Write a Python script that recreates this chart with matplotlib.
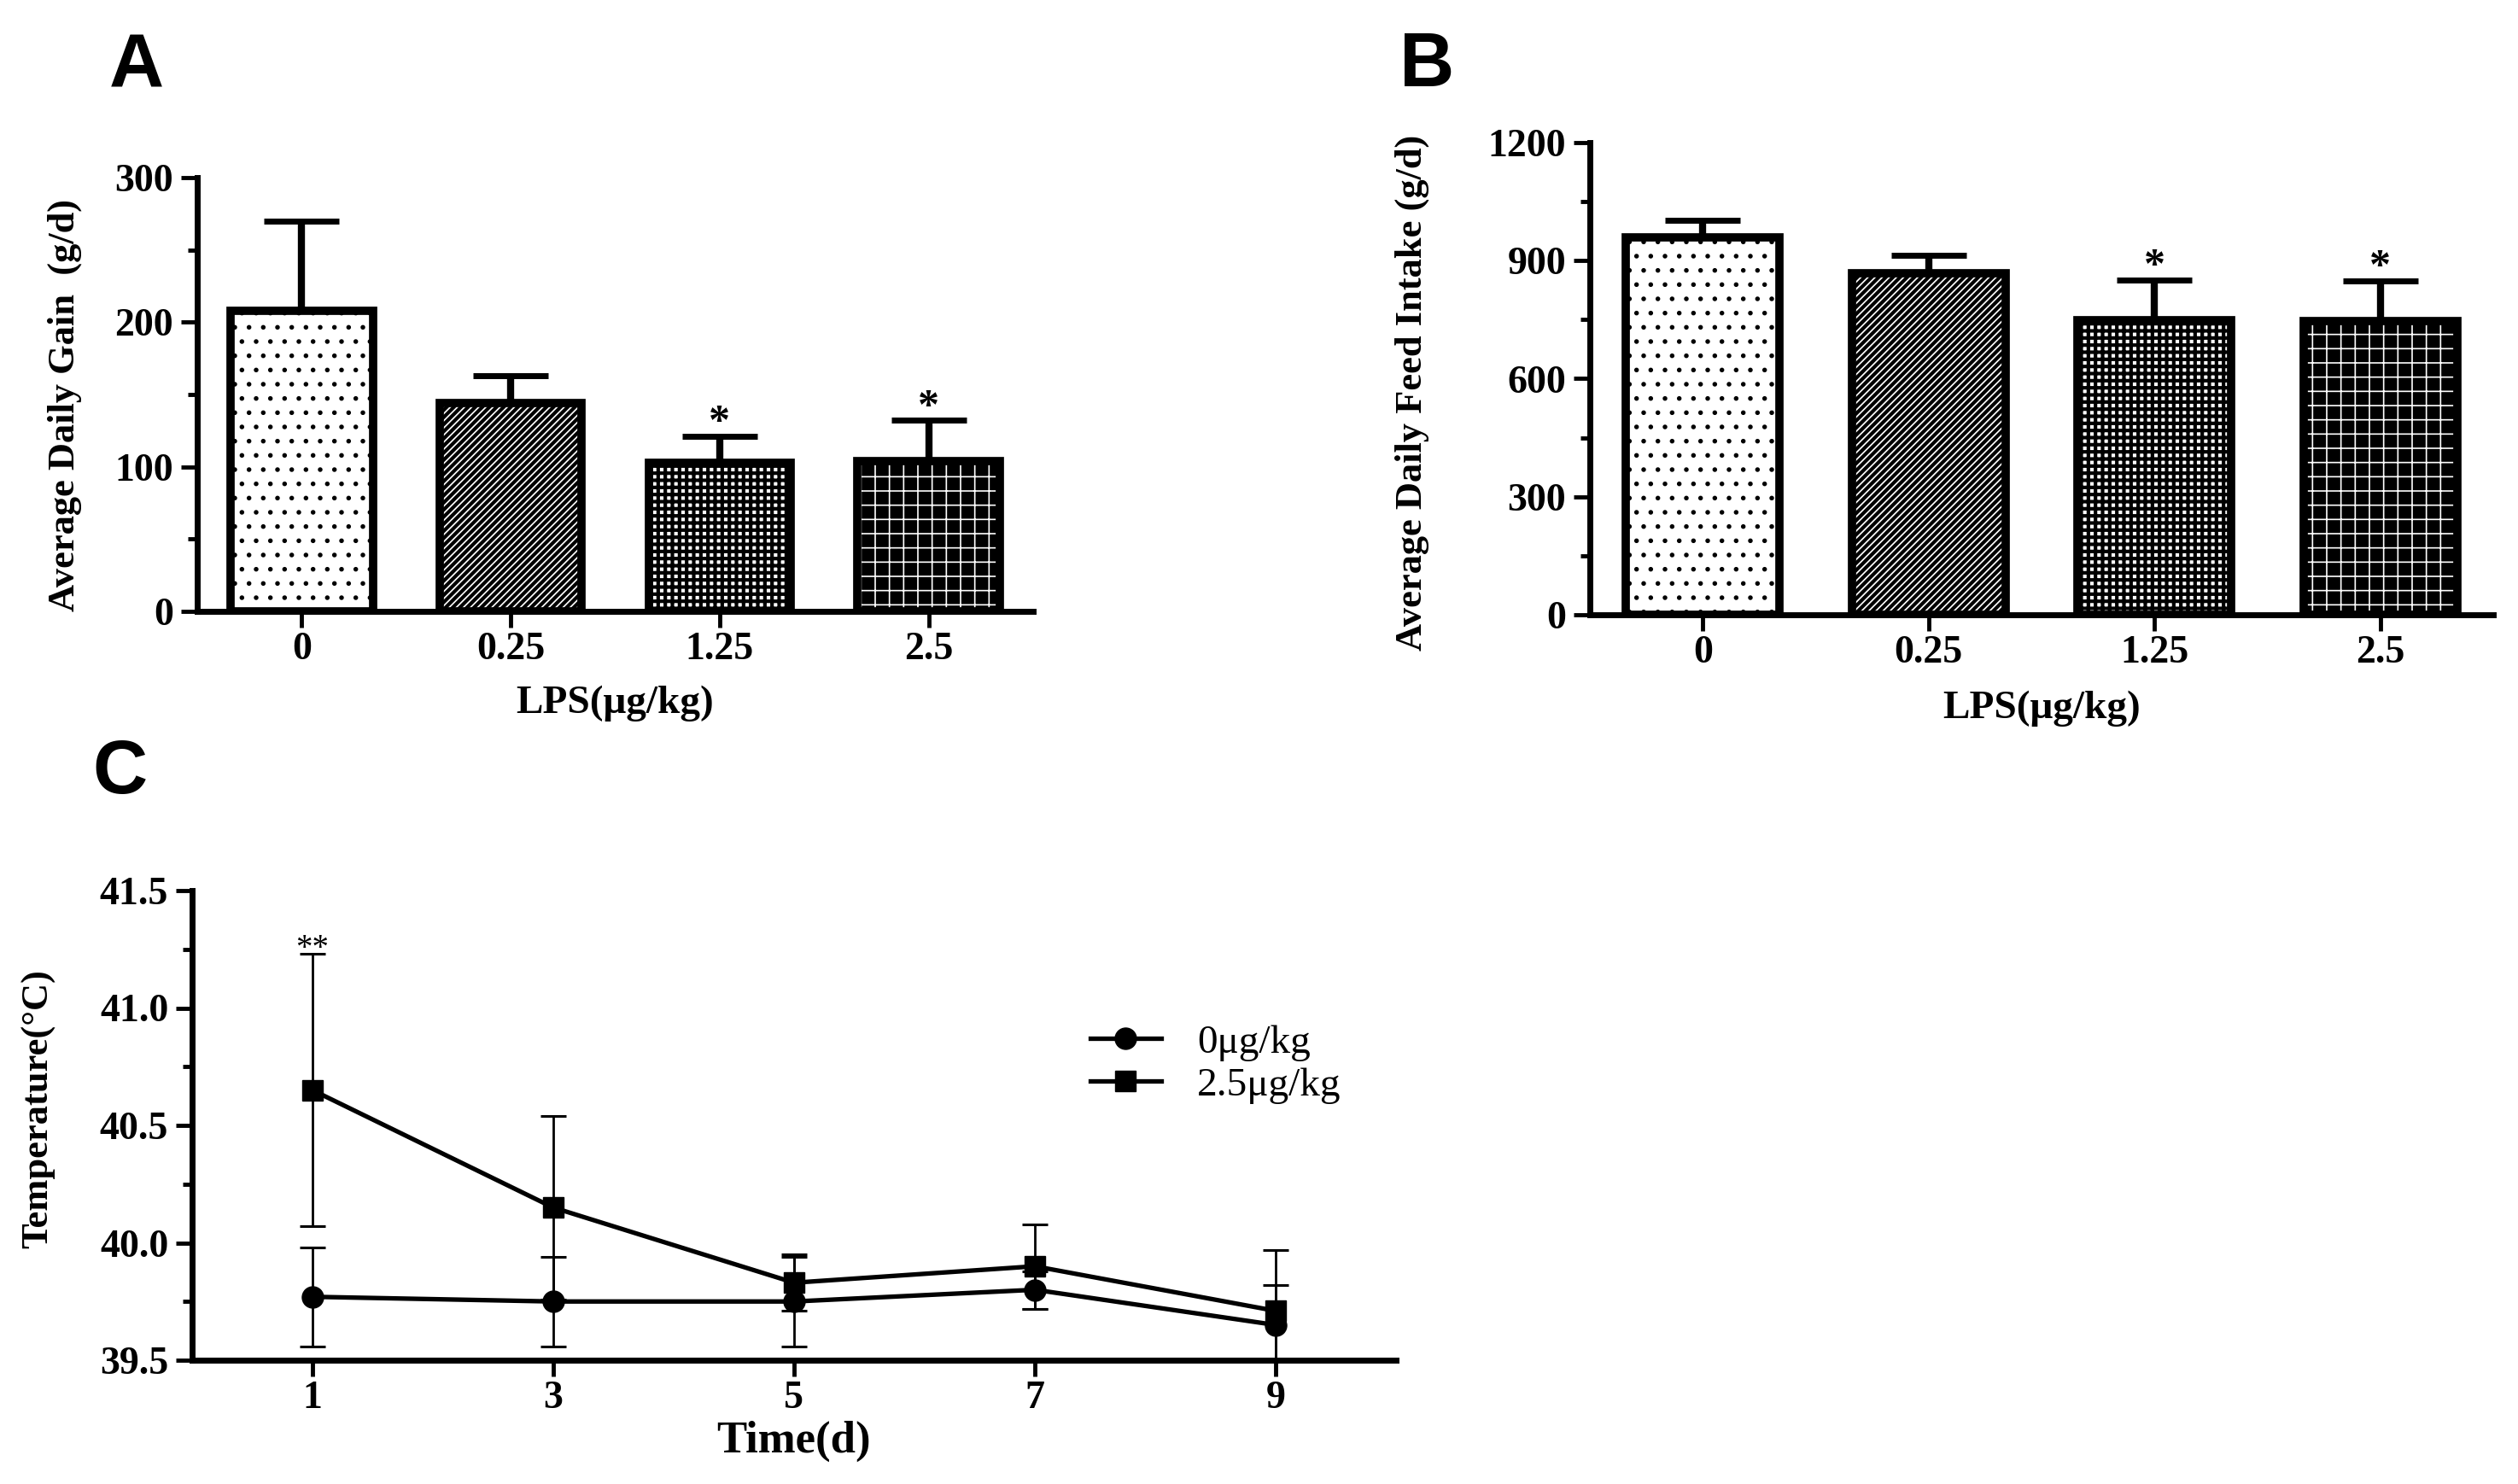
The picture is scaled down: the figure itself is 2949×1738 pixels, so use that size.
import matplotlib
matplotlib.use('Agg')
import matplotlib.pyplot as plt
import numpy as np
from matplotlib.ticker import MultipleLocator, FormatStrFormatter

# data
doses = ['0', '0.25', '1.25', '2.5']
adg_mean = [208, 144, 103, 104]
adg_err = [62, 19, 18, 28]
adg_sig = ['', '', '*', '*']
adfi_mean = [960, 869, 748, 746]
adfi_err = [42, 45, 103, 103]
adfi_sig = ['', '', '*', '*']

days = [1, 3, 5, 7, 9]
temp_ctrl = [39.77, 39.75, 39.75, 39.80, 39.65]
temp_ctrl_err = [0.21, 0.19, 0.19, 0.08, 0.17]
temp_lps = [40.65, 40.15, 39.83, 39.90, 39.71]
temp_lps_err = [0.58, 0.39, 0.12, 0.18, 0.26]
temp_sig = ['**', '', '', '', '']

plt.rcParams['font.family'] = ['Liberation Serif', 'DejaVu Serif']
plt.rcParams['font.weight'] = 'bold'
plt.rcParams['axes.labelweight'] = 'bold'

W, H = 2949, 1738
fig = plt.figure(figsize=(W / 100, H / 100), dpi=100)


def box(l, r, t, b):
    return [l / W, 1 - b / H, (r - l) / W, (b - t) / H]


axA = fig.add_axes(box(231, 1210, 208, 716))
axB = fig.add_axes(box(1862, 2920, 167, 720))
axC = fig.add_axes(box(225, 1635, 1043, 1593))

# fill pattern per dose
hatches = ['.', '////', '++', '+']
faces = ['white', 'white', 'white', 'black']
hcols = ['black', 'black', 'black', 'white']
hwidths = [1.5, 3.0, 3.0, 1.2]


def style(ax):
    for s in ['top', 'right']:
        ax.spines[s].set_visible(False)
    for s in ['left', 'bottom']:
        ax.spines[s].set_linewidth(5)
    ax.tick_params(which='major', length=14, width=3.5, pad=6, labelsize=33)
    ax.tick_params(axis='x', which='major', pad=3)
    ax.tick_params(which='minor', length=8, width=3.5)
    ax.tick_params(axis='x', which='minor', length=0)


def bars(ax, mean, err, sig, ylim, step):
    x = np.arange(len(doses))
    for i in range(len(doses)):
        ax.bar(x[i], mean[i], 0.68, color=faces[i], linewidth=0, zorder=1)
        with plt.rc_context({'hatch.color': hcols[i], 'hatch.linewidth': hwidths[i]}):
            ax.bar(x[i], mean[i], 0.68, facecolor='none', edgecolor=hcols[i],
                   hatch=hatches[i], linewidth=0, zorder=1.5)
    ax.bar(x, mean, 0.68, facecolor='none', edgecolor='black', linewidth=7, zorder=3)
    ax.errorbar(x, mean, yerr=[np.zeros(len(err)), err], fmt='none', ecolor='black',
                elinewidth=6, capsize=32, capthick=5, zorder=2)
    for i in range(len(doses)):
        if sig[i]:
            ax.annotate(sig[i], (x[i], mean[i] + err[i]), xytext=(0, 2),
                        textcoords='offset points', ha='center', va='baseline',
                        fontsize=36, fontweight='bold')
    ax.set_xlim(-0.5, 3.5)
    ax.set_ylim(*ylim)
    ax.set_xticks(x)
    ax.set_xticklabels(doses)
    ax.yaxis.set_major_locator(MultipleLocator(step))
    ax.yaxis.set_minor_locator(MultipleLocator(step / 2))
    style(ax)


bars(axA, adg_mean, adg_err, adg_sig, (0, 300), 100)
axA.set_ylabel('Average Daily Gain  (g/d)', fontsize=32)
axA.yaxis.set_label_coords(-0.138, 0.476)
axA.set_xlabel('LPS(\u03bcg/kg)', fontsize=34, va='top')
axA.xaxis.set_label_coords(0.5, -0.171)

bars(axB, adfi_mean, adfi_err, adfi_sig, (0, 1200), 300)
axB.set_ylabel('Average Daily Feed Intake (g/d)', fontsize=32)
axB.yaxis.set_label_coords(-0.178, 0.47)
axB.set_xlabel('LPS(\u03bcg/kg)', fontsize=34, va='top')
axB.xaxis.set_label_coords(0.5, -0.161)

# temperature
axC.errorbar(days, temp_ctrl, yerr=temp_ctrl_err, fmt='none', ecolor='black',
             elinewidth=2, capsize=11, capthick=2.2, zorder=2)
axC.errorbar(days, temp_lps, yerr=temp_lps_err, fmt='none', ecolor='black',
             elinewidth=2, capsize=11, capthick=2.2, zorder=2)
axC.plot(days, temp_ctrl, '-o', color='black', lw=3.8, ms=18, label='0\u03bcg/kg', zorder=3)
axC.plot(days, temp_lps, '-s', color='black', lw=3.8, ms=17, label='2.5\u03bcg/kg', zorder=3)
for d, m, e, s in zip(days, temp_lps, temp_lps_err, temp_sig):
    if s:
        axC.annotate(s, (d, m + e), xytext=(0, -3), textcoords='offset points',
                     ha='center', va='baseline', fontsize=28, fontweight='normal')
axC.set_xlim(0, 10)
axC.set_ylim(39.5, 41.5)
axC.set_xticks(days)
axC.yaxis.set_major_locator(MultipleLocator(0.5))
axC.yaxis.set_minor_locator(MultipleLocator(0.25))
axC.yaxis.set_major_formatter(FormatStrFormatter('%.1f'))
style(axC)
axC.set_ylabel('Temperature(\u00b0C)', fontsize=32)
axC.yaxis.set_label_coords(-0.113, 0.535)
axC.set_xlabel('Time(d)', fontsize=38, va='top')
axC.xaxis.set_label_coords(0.5, -0.128)
axC.legend(loc='center left', bbox_to_anchor=(0.433, 0.283), bbox_transform=fig.transFigure,
           frameon=False, borderpad=0, borderaxespad=0, handlelength=1.75,
           handletextpad=0.9, labelspacing=0.15, prop={'size': 34, 'weight': 'normal'})

for lbl, x, y in [('A', 128, 38), ('B', 1639, 36), ('C', 108, 864)]:
    fig.text(x / W, 1 - y / H, lbl, family='Liberation Sans', fontsize=64,
             fontweight='bold', ha='left', va='top')

fig.savefig('out.png', dpi=100)
